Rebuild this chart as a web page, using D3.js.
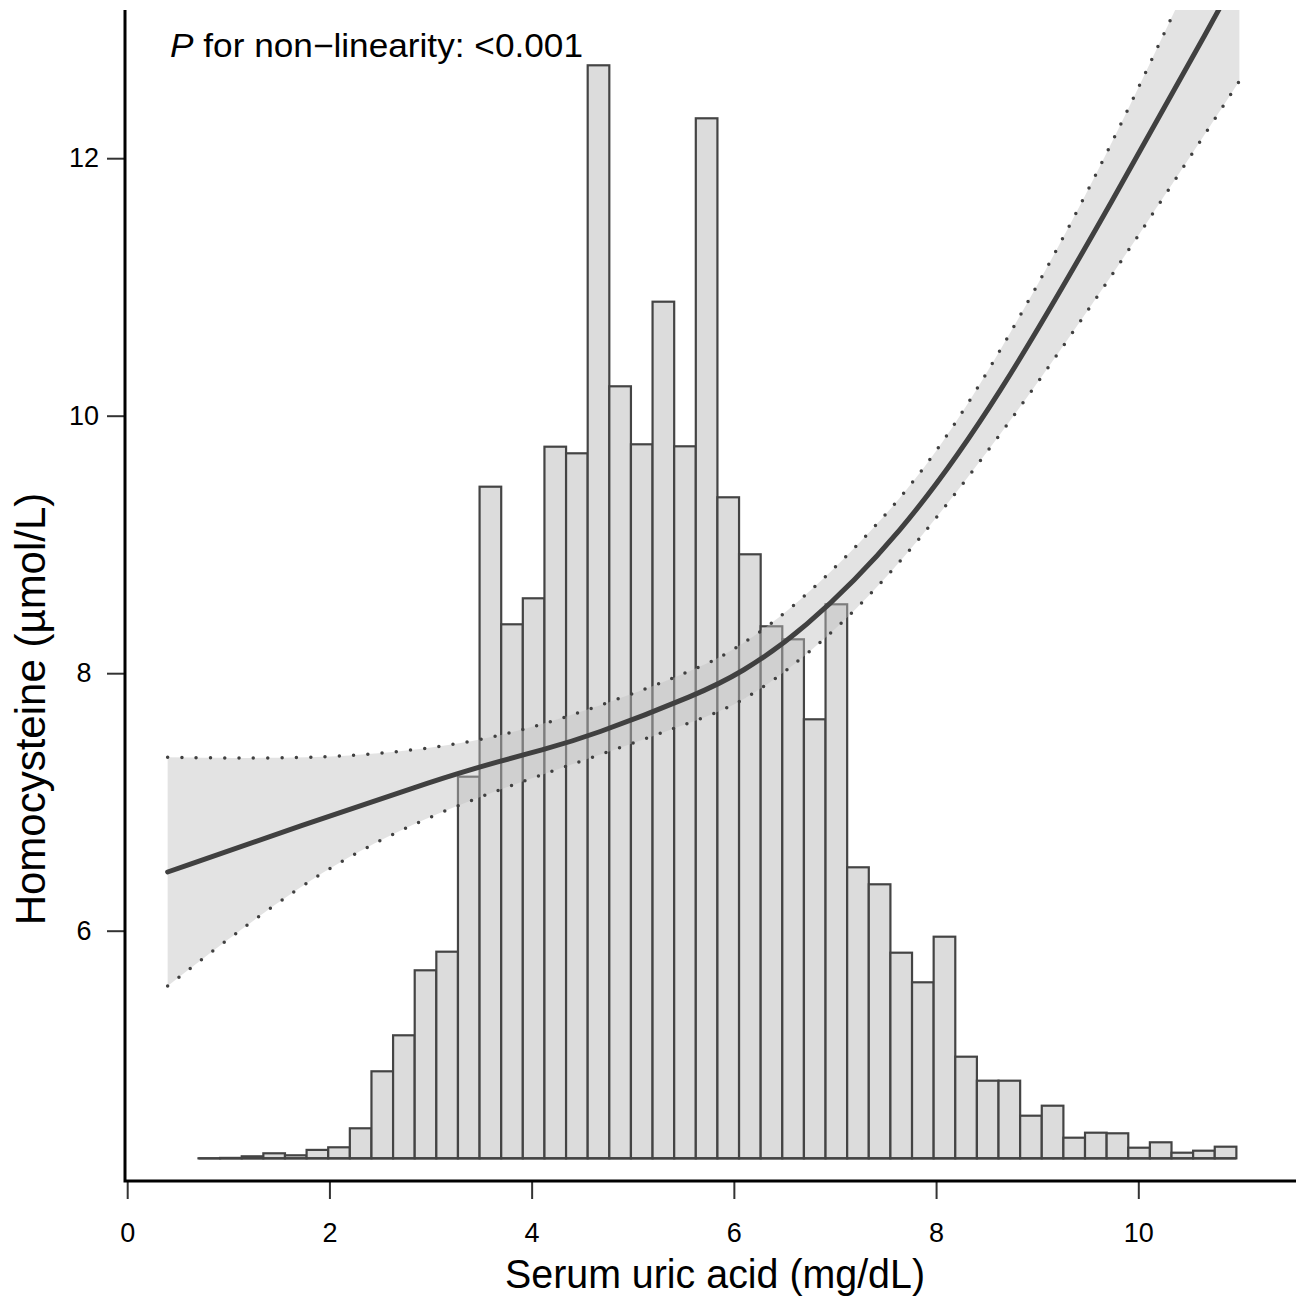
<!DOCTYPE html>
<html>
<head>
<meta charset="utf-8">
<script src="https://cdn.jsdelivr.net/npm/d3@7"></script>
<style>
  body { margin: 0; background: #fff; }
  text { font-family: "Liberation Sans", Arial, sans-serif; fill: #000; }
</style>
</head>
<body>
<div id="chart"></div>
<script>
const width = 1296;
const height = 1297;

const xTicks = [0, 2, 4, 6, 8, 10];
const yTicks = [6, 8, 10, 12];

// histogram of serum uric acid (48 equal bins, relative counts)
const binStart = 0.705;
const binEnd = 10.97;
const binCounts = [0, 0.2, 1, 2.5, 1.5, 4.2, 5.5, 15, 43.5, 61.5, 94, 103.3,
  190.8, 335.8, 267, 280, 355.8, 352.5, 546.5, 386, 357, 428.3, 356, 520,
  330.5, 302, 266, 259.5, 219.5, 277, 145.5, 137, 102.8, 88, 110.8, 50.8,
  38.8, 38.8, 21.3, 26.3, 10.3, 12.8, 12.5, 5.3, 8, 2.8, 3.8, 5.8];

// restricted cubic spline fit and 95% CI
const fitPoints = [[0.4, 6.456], [1.71, 6.813], [3.1, 7.184], [3.69, 7.318], [4.085, 7.40],
  [4.58, 7.51], [5.67, 7.844], [6.06, 7.999], [6.66, 8.31], [7.64, 9.06],
  [8.61, 10.12], [9.75, 11.675], [10.79, 13.14], [11.0, 13.45]];
const upperPoints = [[0.4, 7.347], [1.71, 7.334], [2.7, 7.383], [3.655, 7.494], [4.578, 7.714],
  [5.666, 8.038], [6.061, 8.206], [6.655, 8.543], [7.644, 9.32], [8.37, 10.122],
  [9.48, 11.675], [10.32, 13.08], [11.0, 14.2]];
const lowerPoints = [[0.4, 5.571], [1.71, 6.368], [2.7, 6.795], [3.655, 7.093], [4.578, 7.339],
  [5.666, 7.642], [6.061, 7.766], [6.655, 8.084], [7.6, 8.773], [8.963, 10.186],
  [10.15, 11.57], [11.0, 12.6]];

const plot = { left: 125, top: 10, right: 1296, bottom: 1181 };

const svg = d3.select("#chart")
  .append("svg")
  .attr("width", width)
  .attr("height", height);

const x = d3.scaleLinear().domain([0, 10]).range([127.2, 1138.3]);
const y = d3.scaleLinear().domain([6, 12]).range([930.7, 158.2]);
const yHist = d3.scaleLinear().domain([0, 550]).range([1158.3, 58.3]);

svg.append("clipPath").attr("id", "clip")
  .append("rect")
  .attr("x", plot.left).attr("y", plot.top)
  .attr("width", plot.right - plot.left)
  .attr("height", plot.bottom - plot.top);

// histogram
const binW = (binEnd - binStart) / binCounts.length;
const bins = binCounts.map((c, i) => ({ x0: binStart + i * binW, x1: binStart + (i + 1) * binW, c }));

svg.append("g")
  .selectAll("rect")
  .data(bins)
  .enter().append("rect")
  .attr("x", d => x(d.x0))
  .attr("width", d => x(d.x1) - x(d.x0))
  .attr("y", d => yHist(d.c))
  .attr("height", d => Math.max(0.01, yHist(0) - yHist(d.c)))
  .style("fill", "#dcdcdc")
  .style("stroke", "#444")
  .style("stroke-width", 2.2);

svg.append("line")
  .attr("x1", x(binStart)).attr("x2", x(binEnd))
  .attr("y1", yHist(0)).attr("y2", yHist(0))
  .style("stroke", "#444")
  .style("stroke-width", 2.2);

// confidence band
const line = d3.line()
  .x(d => x(d[0]))
  .y(d => y(d[1]))
  .curve(d3.curveBasis);

const g = svg.append("g").attr("clip-path", "url(#clip)");

const bandPath = line(upperPoints) + "L" + line(lowerPoints.slice().reverse()).slice(1) + "Z";
g.append("path")
  .attr("d", bandPath)
  .style("fill", "rgb(194,194,194)")
  .style("fill-opacity", 0.46)
  .style("stroke", "none");

[upperPoints, lowerPoints].forEach(pts => {
  g.append("path")
    .attr("d", line(pts))
    .style("fill", "none")
    .style("stroke", "#404040")
    .style("stroke-width", 3.5)
    .style("stroke-linecap", "round")
    .style("stroke-dasharray", "0 14.3");
});

g.append("path")
  .attr("d", line(fitPoints))
  .style("fill", "none")
  .style("stroke", "#404040")
  .style("stroke-width", 5)
  .style("stroke-linecap", "round");

// axes
const xAxis = svg.append("g")
  .attr("transform", `translate(0,${plot.bottom})`)
  .call(d3.axisBottom(x).tickValues(xTicks).tickSize(18).tickPadding(24).tickFormat(d3.format("d")));
xAxis.select(".domain").remove();
xAxis.selectAll(".tick line").style("stroke", "#333").style("stroke-width", 2);
xAxis.selectAll("text").style("font-size", "27px");

const yAxis = svg.append("g")
  .attr("transform", `translate(${plot.left},0)`)
  .call(d3.axisLeft(y).tickValues(yTicks).tickSize(18).tickFormat(d3.format("d")));
yAxis.select(".domain").remove();
yAxis.selectAll(".tick line").style("stroke", "#333").style("stroke-width", 2);
yAxis.selectAll("text")
  .attr("x", -41)
  .attr("text-anchor", "middle")
  .style("font-size", "27px");

svg.append("path")
  .attr("d", `M${plot.left},${plot.top}V${plot.bottom}H${plot.right}`)
  .style("fill", "none")
  .style("stroke", "#000")
  .style("stroke-width", 3);

// titles
svg.append("text")
  .attr("x", 715).attr("y", 1288)
  .attr("text-anchor", "middle")
  .attr("textLength", 420)
  .attr("lengthAdjust", "spacingAndGlyphs")
  .style("font-size", "41px")
  .text("Serum uric acid (mg/dL)");

svg.append("text")
  .attr("transform", "translate(45,709) rotate(-90)")
  .attr("text-anchor", "middle")
  .style("font-size", "42px")
  .text("Homocysteine (µmol/L)");

const note = svg.append("text")
  .attr("x", 170).attr("y", 57)
  .attr("textLength", 413)
  .attr("lengthAdjust", "spacingAndGlyphs")
  .style("font-size", "33px");
note.append("tspan").style("font-style", "italic").text("P");
note.append("tspan").text(" for non\u2212linearity: <0.001");
</script>
</body>
</html>
